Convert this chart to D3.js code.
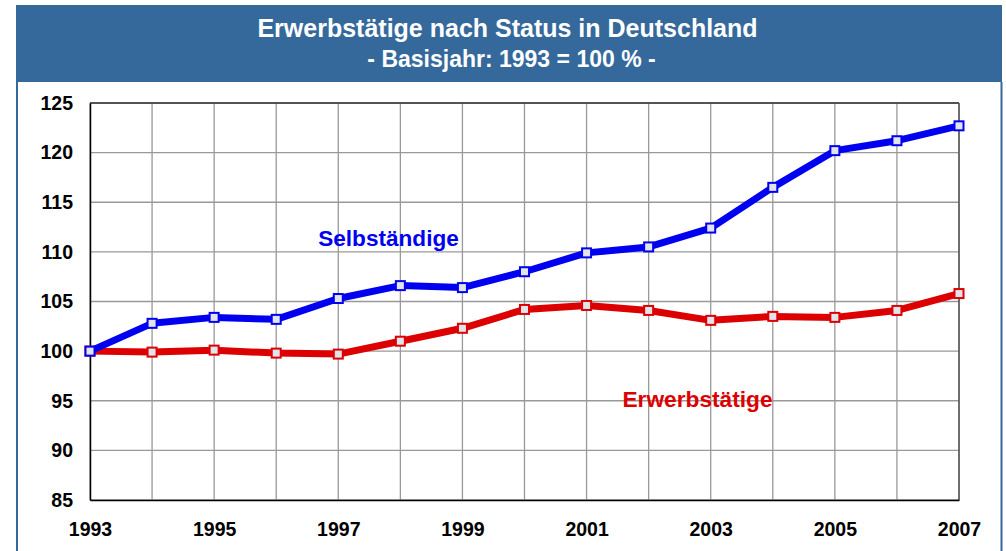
<!DOCTYPE html>
<html><head><meta charset="utf-8">
<script src="https://cdn.jsdelivr.net/npm/d3@7"></script>
<style>body{margin:0;background:#fff;font-family:"Liberation Sans",Arial,sans-serif}</style>
</head><body>
<svg id="c" width="1006" height="551"></svg>
<script>
const years = [1993,1994,1995,1996,1997,1998,1999,2000,2001,2002,2003,2004,2005,2006,2007];
const selbstaendige = [100,102.8,103.4,103.2,105.3,106.6,106.4,108.0,109.9,110.5,112.4,116.5,120.2,121.2,122.7];
const erwerbstaetige = [100,99.9,100.1,99.8,99.7,101.0,102.3,104.2,104.6,104.1,103.1,103.5,103.4,104.1,105.8];
const yTicks = [85,90,95,100,105,110,115,120,125];
const xTickLabels = [1993,1995,1997,1999,2001,2003,2005,2007];
const title = "Erwerbstätige nach Status in Deutschland";
const subtitle = "- Basisjahr: 1993 = 100 % -";

const svg = d3.select("#c");
const FONT = "Liberation Sans, Arial, sans-serif";
const frame = "#35699c";
// header band
svg.append("rect").attr("x",16).attr("y",5).attr("width",986).attr("height",77).attr("fill",frame);
// side borders
svg.append("line").attr("x1",17).attr("x2",17).attr("y1",82).attr("y2",551).attr("stroke",frame).attr("stroke-width",2);
svg.append("line").attr("x1",1001.5).attr("x2",1001.5).attr("y1",82).attr("y2",551).attr("stroke",frame).attr("stroke-width",2);

svg.append("text").attr("x",507.5).attr("y",37).attr("text-anchor","middle").attr("fill","#fff")
  .attr("font-size",25).attr("font-weight","bold").text(title);
svg.append("text").attr("x",511.5).attr("y",67).attr("text-anchor","middle").attr("fill","#fff")
  .attr("font-size",23).attr("font-weight","bold").text(subtitle);

const x = d3.scaleLinear().domain([1993,2007]).range([90,959]);
const y = d3.scaleLinear().domain([85,125]).range([500,103]);

// grid
const g = svg.append("g");
g.selectAll(".hg").data(yTicks).join("line")
  .attr("x1",90).attr("x2",959).attr("y1",d=>y(d)).attr("y2",d=>y(d))
  .attr("stroke","#999").attr("stroke-width",1.3);
g.selectAll(".vg").data(years).join("line")
  .attr("x1",d=>x(d)).attr("x2",d=>x(d)).attr("y1",103).attr("y2",500)
  .attr("stroke","#999").attr("stroke-width",1.3);
// plot border
svg.append("line").attr("x1",90).attr("x2",959).attr("y1",103).attr("y2",103).attr("stroke","#333").attr("stroke-width",1.3);
svg.append("line").attr("x1",959).attr("x2",959).attr("y1",103).attr("y2",500).attr("stroke","#555").attr("stroke-width",1.5);

// axes
const yAxis = d3.axisLeft(y).tickValues(yTicks).tickSize(0).tickPadding(17);
const ya = svg.append("g").attr("transform","translate(90,0)").call(yAxis);
ya.select(".domain").attr("stroke","#000").attr("stroke-width",1.5);
ya.selectAll("text").attr("font-size",19.5).attr("font-weight","bold").attr("fill","#000")
  .attr("font-family",FONT);

const xAxis = d3.axisBottom(x).tickValues(xTickLabels).tickFormat(d3.format("d")).tickSize(0).tickPadding(22);
const xa = svg.append("g").attr("transform","translate(0,500)").call(xAxis);
xa.select(".domain").attr("stroke","#000").attr("stroke-width",1.5);
xa.selectAll("text").attr("font-size",19.5).attr("font-weight","bold").attr("fill","#000")
  .attr("font-family",FONT);

function series(vals, color){
  const data = years.map((yr,i)=>({yr, v: vals[i]}));
  const line = d3.line().x(d=>x(d.yr)).y(d=>y(d.v));
  svg.append("path").datum(data).attr("d",line).attr("fill","none")
    .attr("stroke",color).attr("stroke-width",7).attr("stroke-linejoin","round");
  svg.selectAll(null).data(data).join("rect")
    .attr("x",d=>x(d.yr)-4.5).attr("y",d=>y(d.v)-4.5).attr("width",9).attr("height",9)
    .attr("fill","#e2e4ec").attr("stroke",color).attr("stroke-width",2);
}
series(erwerbstaetige, "#dd0000");
series(selbstaendige, "#0000f0");

svg.append("text").attr("x",388.5).attr("y",246).attr("text-anchor","middle")
  .attr("fill","#0000f0").attr("font-size",22.6).attr("font-weight","bold").text("Selbständige");
svg.append("text").attr("x",697.5).attr("y",407).attr("text-anchor","middle")
  .attr("fill","#dd0000").attr("font-size",22.7).attr("font-weight","bold").text("Erwerbstätige");
</script>
</body></html>
